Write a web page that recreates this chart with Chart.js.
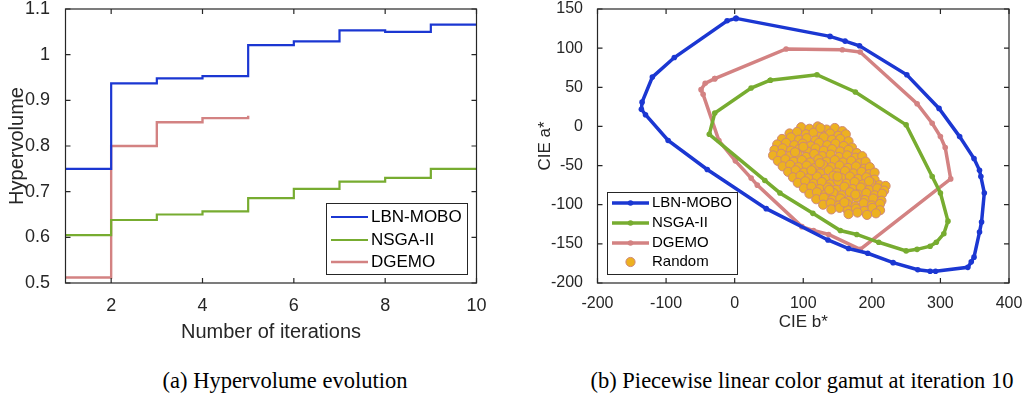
<!DOCTYPE html>
<html>
<head>
<meta charset="utf-8">
<script src="https://cdn.jsdelivr.net/npm/chart.js@4.4.0/dist/chart.umd.min.js"></script>
<style>
  html, body { margin: 0; padding: 0; background: #fff; }
  body { width: 1026px; height: 398px; position: relative; overflow: hidden; }
  .panel { position: absolute; top: 0; height: 350px; }
  #leftPanel { left: 0; width: 500px; }
  #rightPanel { left: 520px; width: 506px; }
  .caption { position: absolute; top: 367px; height: 28px; line-height: 28px; text-align: center;
             font-family: "Liberation Serif", "Times New Roman", serif; font-size: 22.5px; color: #000; white-space: nowrap; }
  #capA { left: 130px; width: 310px; }
  #capB { left: 552px; width: 500px; }
</style>
</head>
<body>
<div class="panel" id="leftPanel"><canvas id="hvChart"></canvas></div>
<div class="panel" id="rightPanel"><canvas id="gamutChart"></canvas></div>
<div class="caption" id="capA">(a) Hypervolume evolution</div>
<div class="caption" id="capB">(b) Piecewise linear color gamut at iteration 10</div>
<script>
// (a) hypervolume per iteration
const iterations = [1, 2, 3, 4, 5, 6, 7, 8, 9, 10];
const lbnHv   = [0.750, 0.937, 0.948, 0.953, 1.021, 1.029, 1.053, 1.050, 1.066, 1.066];
const nsgaHv  = [0.605, 0.638, 0.650, 0.657, 0.686, 0.706, 0.722, 0.730, 0.750, 0.750];
const dgemoHv = [0.512, 0.800, 0.852, 0.861, 0.866];
const hvXTicks = [2, 4, 6, 8, 10];
const hvYTicks = [0.5, 0.6, 0.7, 0.8, 0.9, 1.0, 1.1];

// (b) gamut polygons, CIE b* / CIE a*
const lbnB = [2, 139, 161, 182, 251, 298, 328, 349, 357, 359, 364, 360, 357, 349, 345, 340, 293, 285, 267, 231, 194, 166, 136, 46, -40, -97, -130, -136, -135, -120, -88, -11];
const lbnA = [138, 115, 109, 103, 66, 23, -13, -41, -56, -64, -85, -122, -135, -167, -173, -180, -185, -185, -183, -174, -162, -156, -145, -105, -55, -18, 15, 22, 31, 63, 88, 135];
const nsgaB = [52, 120, 176, 250, 288, 300, 311, 305, 294, 285, 266, 250, 210, 178, 154, 114, 66, 44, -37, -29, 24];
const nsgaA = [59, 66, 44, 2, -64, -85, -121, -137, -148, -153, -157, -159, -148, -138, -133, -111, -85, -69, -10, 17, 49];
const dgemoB = [-29, 75, 157, 183, 266, 288, 300, 307, 315, 183, 137, 115, 98, 33, 24, 1, -23, -46, -49, -43];
const dgemoA = [61, 99, 98, 95, 29, 4, -13, -27, -67, -157, -138, -133, -128, -75, -66, -44, -18, 41, 47, 55];
const randomPts = [
  [97,-1],[109,-3],[121,0],[134,-4],[146,-2],[157,-6],
  [80,-9],[91,-7],[104,-10],[115,-8],[127,-11],[139,-9],[151,-12],[162,-10],
  [69,-16],[82,-14],[94,-17],[105,-15],[118,-18],[130,-14],[142,-17],[154,-16],[166,-19],
  [62,-23],[75,-21],[87,-24],[99,-22],[111,-25],[123,-21],[135,-24],[147,-22],[159,-25],[171,-27],
  [58,-30],[70,-28],[82,-31],[94,-29],[106,-32],[118,-28],[130,-31],[142,-29],[154,-32],[166,-30],[178,-34],
  [56,-37],[68,-35],[80,-38],[92,-36],[104,-39],[116,-35],[128,-38],[140,-36],[152,-39],[164,-37],[176,-40],[186,-38],
  [63,-44],[74,-42],[86,-45],[98,-43],[110,-46],[122,-42],[134,-45],[146,-43],[158,-46],[170,-44],[182,-47],[191,-45],
  [70,-51],[81,-49],[93,-52],[105,-50],[117,-53],[129,-49],[141,-52],[153,-50],[165,-53],[177,-51],[189,-54],[197,-52],
  [78,-58],[89,-56],[101,-59],[113,-57],[125,-60],[137,-56],[149,-59],[161,-57],[173,-60],[185,-58],[196,-61],[204,-59],
  [85,-65],[96,-63],[108,-66],[120,-64],[132,-67],[144,-63],[156,-66],[168,-64],[180,-67],[192,-65],[204,-68],
  [92,-72],[103,-70],[115,-73],[127,-71],[139,-74],[151,-70],[163,-73],[175,-71],[187,-74],[199,-72],[211,-75],[220,-76],
  [101,-79],[112,-77],[124,-80],[136,-78],[148,-81],[160,-77],[172,-80],[184,-78],[196,-81],[208,-79],[218,-82],
  [109,-86],[120,-84],[132,-87],[144,-85],[156,-88],[168,-84],[180,-87],[192,-85],[204,-88],[215,-86],
  [119,-93],[130,-91],[142,-94],[154,-92],[166,-95],[178,-91],[190,-94],[202,-92],[214,-95],
  [129,-100],[140,-98],[152,-101],[164,-99],[176,-102],[188,-98],[200,-101],[212,-99],
  [141,-106],[153,-104],[165,-107],[177,-105],[189,-108],[201,-104],[212,-107],
  [166,-112],[179,-110],[193,-113],[206,-111],
  [125,-2],[100,-26],[124,-47],[150,-64],[176,-87],[88,-33],[112,-56],[138,-81],[160,-97],[196,-70]
];
const gamutXTicks = [-200, -100, 0, 100, 200, 300, 400];
const gamutYTicks = [-200, -150, -100, -50, 0, 50, 100, 150];

const BLUE = '#1b37d2', GREEN = '#77ac30', PINK = '#d38282', ORANGE = '#edb120';
const AXIS = '#262626';
const SANS = 'Liberation Sans, Arial, sans-serif';

// closed polygon from two arrays
function loop(bs, as) {
  const pts = bs.map((b, i) => ({ x: b, y: as[i] }));
  pts.push(pts[0]);
  return pts;
}

// box with inward ticks on all four sides, like matlab "box on"
const matlabAxes = {
  id: 'matlabAxes',
  afterDatasetsDraw(chart, args, opts) {
    const { ctx, chartArea: a, scales: { x, y } } = chart;
    const len = opts.tick || 5;
    ctx.save();
    ctx.strokeStyle = AXIS;
    ctx.lineWidth = 1.2;
    ctx.beginPath();
    x.ticks.forEach(t => {
      const px = x.getPixelForValue(t.value);
      ctx.moveTo(px, a.bottom); ctx.lineTo(px, a.bottom - len);
      ctx.moveTo(px, a.top); ctx.lineTo(px, a.top + len);
    });
    y.ticks.forEach(t => {
      const py = y.getPixelForValue(t.value);
      ctx.moveTo(a.left, py); ctx.lineTo(a.left + len, py);
      ctx.moveTo(a.right, py); ctx.lineTo(a.right - len, py);
    });
    ctx.stroke();
    ctx.strokeRect(a.left, a.top, a.right - a.left, a.bottom - a.top);
    ctx.restore();
  }
};

// legend drawn inside the axes at a fixed spot
const boxLegend = {
  id: 'boxLegend',
  afterDraw(chart, args, o) {
    const ctx = chart.ctx;
    ctx.save();
    ctx.fillStyle = '#fff';
    ctx.fillRect(o.x, o.y, o.w, o.h);
    ctx.strokeStyle = AXIS;
    ctx.lineWidth = 1;
    ctx.strokeRect(o.x + 0.5, o.y + 0.5, o.w, o.h);
    ctx.font = o.font;
    ctx.textBaseline = 'middle';
    chart.data.datasets.forEach((ds, i) => {
      const yy = o.rows[i];
      const mid = (o.x0 + o.x1) / 2;
      if (ds.showLine !== false) {
        ctx.strokeStyle = ds.borderColor;
        ctx.lineWidth = ds.borderWidth;
        ctx.beginPath(); ctx.moveTo(o.x0, yy); ctx.lineTo(o.x1, yy); ctx.stroke();
      }
      if (ds.pointRadius > 0) {
        ctx.fillStyle = ds.pointBackgroundColor || ds.backgroundColor;
        ctx.beginPath(); ctx.arc(mid, yy, ds.pointRadius, 0, Math.PI * 2); ctx.fill();
        if (ds.showLine === false) { ctx.strokeStyle = ds.borderColor; ctx.lineWidth = 1; ctx.stroke(); }
      }
      ctx.fillStyle = '#000';
      ctx.fillText(ds.label, o.tx, yy);
    });
    ctx.restore();
  }
};

const hvSeries = (data) => data.map((v, i) => ({ x: iterations[i], y: v }));

new Chart(document.getElementById('hvChart'), {
  type: 'line',
  data: {
    datasets: [
      { label: 'LBN-MOBO', data: hvSeries(lbnHv), borderColor: BLUE, borderWidth: 2.2, stepped: true, pointRadius: 0, fill: false },
      { label: 'NSGA-II', data: hvSeries(nsgaHv), borderColor: GREEN, borderWidth: 2.2, stepped: true, pointRadius: 0, fill: false },
      { label: 'DGEMO', data: hvSeries(dgemoHv), borderColor: PINK, borderWidth: 2.4, stepped: true, pointRadius: 0, fill: false }
    ]
  },
  options: {
    responsive: true,
    maintainAspectRatio: false,
    animation: false,
    layout: { padding: { top: 9, right: 23.5, left: 0, bottom: 0 } },
    plugins: {
      legend: { display: false },
      tooltip: { enabled: false },
      matlabAxes: { tick: 5 },
      boxLegend: { x: 326, y: 203, w: 141, h: 71, rows: [217, 240, 262], x0: 331, x1: 368, tx: 371, font: '17px ' + SANS }
    },
    scales: {
      x: {
        type: 'linear', min: 1, max: 10,
        afterBuildTicks: s => { s.ticks = hvXTicks.map(v => ({ value: v })); },
        afterFit: s => { s.height = 67; s.paddingLeft = 0; s.paddingRight = 0; },
        grid: { display: false }, border: { display: false },
        ticks: { padding: 4, color: AXIS, font: { family: SANS, size: 18 }, maxRotation: 0, autoSkip: false },
        title: { display: true, text: 'Number of iterations', color: AXIS, font: { family: SANS, size: 20 }, padding: { top: 0, bottom: 6 } }
      },
      y: {
        min: 0.5, max: 1.1,
        afterBuildTicks: s => { s.ticks = hvYTicks.map(v => ({ value: v })); },
        afterFit: s => { s.width = 65.5; s.paddingTop = 0; s.paddingBottom = 0; },
        grid: { display: false }, border: { display: false },
        ticks: { padding: 7.5, color: AXIS, font: { family: SANS, size: 18 }, callback: v => String(parseFloat(v.toFixed(2))) },
        title: { display: true, text: 'Hypervolume', color: AXIS, font: { family: SANS, size: 20 }, padding: { top: 5, bottom: 0 } }
      }
    }
  },
  plugins: [matlabAxes, boxLegend]
});

new Chart(document.getElementById('gamutChart'), {
  type: 'scatter',
  data: {
    datasets: [
      { label: 'LBN-MOBO', data: loop(lbnB, lbnA), showLine: true, borderColor: BLUE, borderWidth: 3.5,
        pointRadius: 2.8, pointBackgroundColor: BLUE, pointBorderWidth: 0 },
      { label: 'NSGA-II', data: loop(nsgaB, nsgaA), showLine: true, borderColor: GREEN, borderWidth: 3.5,
        pointRadius: 2.8, pointBackgroundColor: GREEN, pointBorderWidth: 0 },
      { label: 'DGEMO', data: loop(dgemoB, dgemoA), showLine: true, borderColor: PINK, borderWidth: 3.5,
        pointRadius: 2.8, pointBackgroundColor: PINK, pointBorderWidth: 0 },
      { label: 'Random', data: randomPts.map(p => ({ x: p[0], y: p[1] })), showLine: false,
        pointRadius: 4.6, backgroundColor: ORANGE, pointBackgroundColor: ORANGE, borderColor: '#cf8877', borderWidth: 1 }
    ]
  },
  options: {
    responsive: true,
    maintainAspectRatio: false,
    animation: false,
    layout: { padding: { top: 9, right: 17, left: 0, bottom: 0 } },
    plugins: {
      legend: { display: false },
      tooltip: { enabled: false },
      matlabAxes: { tick: 5 },
      boxLegend: { x: 87, y: 192, w: 130, h: 82, rows: [203, 223, 243, 262], x0: 92, x1: 129, tx: 132, font: '15px ' + SANS }
    },
    scales: {
      x: {
        type: 'linear', min: -200, max: 400,
        afterBuildTicks: s => { s.ticks = gamutXTicks.map(v => ({ value: v })); },
        afterFit: s => { s.height = 67; s.paddingLeft = 0; s.paddingRight = 0; },
        grid: { display: false }, border: { display: false },
        ticks: { padding: 3, color: AXIS, font: { family: SANS, size: 16 }, maxRotation: 0, autoSkip: false },
        title: { display: true, text: 'CIE b*', color: AXIS, font: { family: SANS, size: 17 }, padding: { top: 0, bottom: 17 } }
      },
      y: {
        type: 'linear', min: -200, max: 150,
        afterBuildTicks: s => { s.ticks = gamutYTicks.map(v => ({ value: v })); },
        afterFit: s => { s.width = 77.5; s.paddingTop = 0; s.paddingBottom = 0; },
        grid: { display: false }, border: { display: false },
        ticks: { padding: 6.5, color: AXIS, font: { family: SANS, size: 16 } },
        title: { display: true, text: 'CIE a*', color: AXIS, font: { family: SANS, size: 17 }, padding: { top: 15, bottom: 0 } }
      }
    }
  },
  plugins: [matlabAxes, boxLegend]
});
</script>
</body>
</html>
